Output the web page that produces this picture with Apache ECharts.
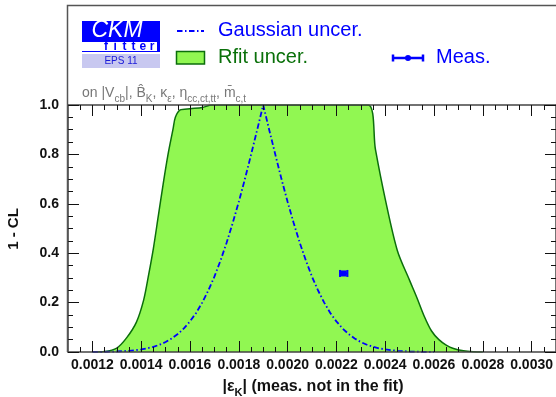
<!DOCTYPE html>
<html><head><meta charset="utf-8">
<script src="https://cdn.jsdelivr.net/npm/echarts@6/dist/echarts.min.js"></script>
<style>html,body{margin:0;padding:0;background:#fff}#c{width:556px;height:397px}</style>
</head><body><div id="c"></div>
<script>
// ---- data ----
const xMajorTicks = [0.0012,0.0014,0.0016,0.0018,0.0020,0.0022,0.0024,0.0026,0.0028,0.0030];
const xMinorTicks = [0.00115,0.00125,0.00130,0.00135,0.00145,0.00150,0.00155,0.00165,0.00170,0.00175,
  0.00185,0.00190,0.00195,0.00205,0.00210,0.00215,0.00225,0.00230,0.00235,0.00245,0.00250,0.00255,
  0.00265,0.00270,0.00275,0.00285,0.00290,0.00295,0.00305];
const yTicks = [0.0,0.2,0.4,0.6,0.8,1.0];

const rfitX = [0.00120,0.00125,0.00130,0.00134,0.00138,0.00141,0.00143,0.00145,0.00147,0.00149,0.00151,
  0.00153,0.00154,0.00156,0.00160,0.00165,0.00169,0.00233,0.00236,0.00240,0.00245,0.00250,0.00253,
  0.00256,0.00259,0.00262,0.00265,0.00268,0.00272,0.00276,0.00280];
const rfitY = [0.000,0.002,0.016,0.057,0.120,0.210,0.310,0.420,0.550,0.680,0.800,
  0.900,0.950,0.980,0.985,0.990,1.000,1.000,0.820,0.620,0.410,0.290,0.220,
  0.145,0.085,0.050,0.028,0.014,0.005,0.001,0.000];

const gaussX = [0.00120,0.00125,0.00130,0.00135,0.001400,0.001425,0.001450,0.001475,0.001500,0.001525,
  0.001550,0.001575,0.001600,0.001625,0.001650,0.001675,0.001700,0.001725,0.001750,0.001775,0.001800,
  0.001825,0.001850,0.001875,0.001900,0.001925,0.001950,0.001975,0.002000,0.002025,0.002050,0.002075,
  0.002100,0.002125,0.002150,0.002175,0.002200,0.002225,0.002250,0.002275,0.002300,0.002325,0.002350,
  0.002375,0.002400,0.00245,0.00250,0.00255,0.00260];
const gaussY = [0.0003,0.0009,0.0021,0.0048,0.0103,0.0149,0.0210,0.0293,0.0403,0.0545,
  0.0727,0.0955,0.124,0.158,0.200,0.249,0.305,0.370,0.442,0.522,0.608,
  0.700,0.798,0.898,1.000,0.898,0.798,0.700,0.608,0.522,0.442,0.370,
  0.305,0.249,0.200,0.158,0.124,0.0955,0.0727,0.0545,0.0403,0.0293,0.0210,
  0.0149,0.0103,0.0048,0.0021,0.0009,0.0003];

const measX = [0.00223];
const measY = [0.318];
const measErr = [0.000011];

// ---- styles ----
const FONT = 'Liberation Sans, Arial, Helvetica, sans-serif';
const BLUE = '#0000ff';
const GREEN_FILL = '#91f752';
const GREEN_LINE = '#0b6e0b';
const AXIS_COL = '#444';
const DASHDOT = [5.5, 2.5, 1.5, 2.5];

const chart = echarts.init(document.getElementById('c'), null, {renderer: 'canvas'});

function xAx(pos, major, labels) {
  return {
    type: 'value', min: 0.0011, max: 0.0031, position: pos, z: 10,
    axisLine: {show: major, onZero: false, lineStyle: {color: AXIS_COL, width: 1.5}},
    axisTick: {show: true, inside: true, length: major ? 11 : 5,
      customValues: major ? xMajorTicks : xMinorTicks, lineStyle: {color: '#111', width: 1}},
    axisLabel: {show: labels, customValues: xMajorTicks, formatter: v => v.toFixed(4),
      fontFamily: FONT, fontWeight: 'bold', fontSize: 14, color: '#111', margin: 6},
    splitLine: {show: false}, minorTick: {show: false}
  };
}
function yAx(pos, labels) {
  return {
    type: 'value', min: 0, max: 1, interval: 0.2, position: pos, z: 10,
    axisLine: {show: true, onZero: false, lineStyle: {color: AXIS_COL, width: 1.5}},
    axisTick: {show: true, inside: true, length: 11, lineStyle: {color: '#111', width: 1}},
    minorTick: {show: true, splitNumber: 4, length: 5, lineStyle: {color: '#111', width: 1}},
    axisLabel: {show: labels, formatter: v => v.toFixed(1),
      fontFamily: FONT, fontWeight: 'bold', fontSize: 14, color: '#111', margin: 9},
    splitLine: {show: false}, minorSplitLine: {show: false}
  };
}

const option = {
  animation: false,
  backgroundColor: '#fff',
  grid: {left: 68, top: 105, right: -2, bottom: 45},
  xAxis: [xAx('bottom', true, true), xAx('bottom', false, false), xAx('top', true, false), xAx('top', false, false)],
  yAxis: [yAx('left', true), yAx('right', false)],
  series: [
    {
      type: 'line', xAxisIndex: 0, yAxisIndex: 0, showSymbol: false, smooth: 0.3, z: 2,
      data: rfitX.map((x, i) => [x, rfitY[i]]),
      lineStyle: {color: GREEN_LINE, width: 1.5},
      areaStyle: {color: GREEN_FILL, opacity: 1, origin: 'start'}
    },
    {
      type: 'line', xAxisIndex: 0, yAxisIndex: 0, showSymbol: false, smooth: false, z: 3,
      data: gaussX.map((x, i) => [x, gaussY[i]]),
      lineStyle: {color: BLUE, width: 1.8, type: DASHDOT}
    },
    {
      type: 'custom', xAxisIndex: 0, yAxisIndex: 0, z: 4,
      data: measX.map((x, i) => [x, measY[i], measErr[i]]),
      renderItem: (params, api) => {
        const c = api.coord([api.value(0), api.value(1)]);
        const lo = api.coord([api.value(0) - api.value(2), api.value(1)]);
        const hi = api.coord([api.value(0) + api.value(2), api.value(1)]);
        const st = {stroke: BLUE, lineWidth: 2};
        return {type: 'group', children: [
          {type: 'line', shape: {x1: lo[0] - 1, y1: c[1], x2: hi[0] + 1, y2: c[1]}, style: st},
          {type: 'line', shape: {x1: lo[0] - 1, y1: c[1] - 3.5, x2: lo[0] - 1, y2: c[1] + 3.5}, style: st},
          {type: 'line', shape: {x1: hi[0] + 1, y1: c[1] - 3.5, x2: hi[0] + 1, y2: c[1] + 3.5}, style: st},
          {type: 'rect', shape: {x: c[0] - 3, y: c[1] - 3, width: 6, height: 6}, style: {fill: BLUE}}
        ]};
      }
    }
  ],
  graphic: [
    // outer frame
    {type: 'polyline', z: 20, shape: {points: [[67.5, 352], [67.5, 5.5], [560, 5.5]]},
      style: {stroke: '#555', lineWidth: 1.5, fill: null}},
    // logo
    {type: 'rect', shape: {x: 82, y: 21, width: 78, height: 31}, style: {fill: '#0000ff'}},
    {type: 'rect', shape: {x: 82, y: 42, width: 75, height: 9}, style: {fill: '#ffffff'}},
    {type: 'rect', shape: {x: 82, y: 54, width: 78, height: 14}, style: {fill: '#c8c8f0'}},
    {type: 'text', x: 117, y: 31, style: {text: 'CKM', fill: '#fff', font: 'italic 23px ' + FONT, align: 'center', verticalAlign: 'middle'}},
    {type: 'text', x: 106, y: 46.5, style: {text: 'f', fill: '#0000ff', font: 'bold 12px ' + FONT, align: 'center', verticalAlign: 'middle'}},
    {type: 'text', x: 115.2, y: 46.5, style: {text: 'i', fill: '#0000ff', font: 'bold 12px ' + FONT, align: 'center', verticalAlign: 'middle'}},
    {type: 'text', x: 124.4, y: 46.5, style: {text: 't', fill: '#0000ff', font: 'bold 12px ' + FONT, align: 'center', verticalAlign: 'middle'}},
    {type: 'text', x: 133.6, y: 46.5, style: {text: 't', fill: '#0000ff', font: 'bold 12px ' + FONT, align: 'center', verticalAlign: 'middle'}},
    {type: 'text', x: 142.8, y: 46.5, style: {text: 'e', fill: '#0000ff', font: 'bold 12px ' + FONT, align: 'center', verticalAlign: 'middle'}},
    {type: 'text', x: 152, y: 46.5, style: {text: 'r', fill: '#0000ff', font: 'bold 12px ' + FONT, align: 'center', verticalAlign: 'middle'}},
    {type: 'text', x: 121, y: 61, style: {text: 'EPS 11', fill: '#1a1ad8', font: '10px ' + FONT, align: 'center', verticalAlign: 'middle'}},
    // legend: gaussian
    {type: 'line', shape: {x1: 177, y1: 31, x2: 204, y2: 31}, style: {stroke: BLUE, lineWidth: 1.8, lineDash: DASHDOT}},
    {type: 'text', x: 218, y: 30, style: {text: 'Gaussian uncer.', fill: BLUE, font: '20px ' + FONT, verticalAlign: 'middle'}},
    // legend: rfit
    {type: 'rect', shape: {x: 176.5, y: 51.5, width: 28, height: 12.5}, style: {fill: GREEN_FILL, stroke: GREEN_LINE, lineWidth: 1.5}},
    {type: 'text', x: 218, y: 57, style: {text: 'Rfit uncer.', fill: '#0a700a', font: '20px ' + FONT, verticalAlign: 'middle'}},
    // legend: meas
    {type: 'line', shape: {x1: 393, y1: 58, x2: 423, y2: 58}, style: {stroke: BLUE, lineWidth: 2.5}},
    {type: 'line', shape: {x1: 393, y1: 54.5, x2: 393, y2: 61.5}, style: {stroke: BLUE, lineWidth: 2.5}},
    {type: 'line', shape: {x1: 423, y1: 54.5, x2: 423, y2: 61.5}, style: {stroke: BLUE, lineWidth: 2.5}},
    {type: 'circle', shape: {cx: 408, cy: 58, r: 3}, style: {fill: BLUE}},
    {type: 'text', x: 436, y: 57, style: {text: 'Meas.', fill: BLUE, font: '20px ' + FONT, verticalAlign: 'middle'}},
    // subtitle
    {type: 'text', x: 82, y: 93, z: 30, style: {
      text: '{a|on |V}{s|cb}{a||, B\u0302}{s|K}{a|, \u03ba}{s|\u03b5}{a|, \u03b7}{s|cc,ct,tt}{a|, m\u0304}{s|c,t}',
      verticalAlign: 'middle',
      rich: {a: {fontFamily: FONT, fontSize: 14, fill: '#777', color: '#777'},
             s: {fontFamily: FONT, fontSize: 10, fill: '#777', color: '#777', padding: [12, 0, 0, 0]}}
    }},
    // x title
    {type: 'text', x: 313, y: 387, style: {
      text: '{b||\u03b5}{k|K}{b|| (meas. not in the fit)}', align: 'center', verticalAlign: 'middle',
      rich: {b: {fontFamily: FONT, fontSize: 16, fontWeight: 'bold', fill: '#111', color: '#111'},
             k: {fontFamily: FONT, fontSize: 11, fontWeight: 'bold', fill: '#111', color: '#111', padding: [11, 0, 0, 0]}}
    }},
    // y title
    {type: 'text', x: 14, y: 229, rotation: Math.PI / 2, style: {
      text: '1 - CL', fill: '#111', font: 'bold 15px ' + FONT, align: 'center', verticalAlign: 'middle'}}
  ]
};
chart.setOption(option);
</script>
</body></html>
